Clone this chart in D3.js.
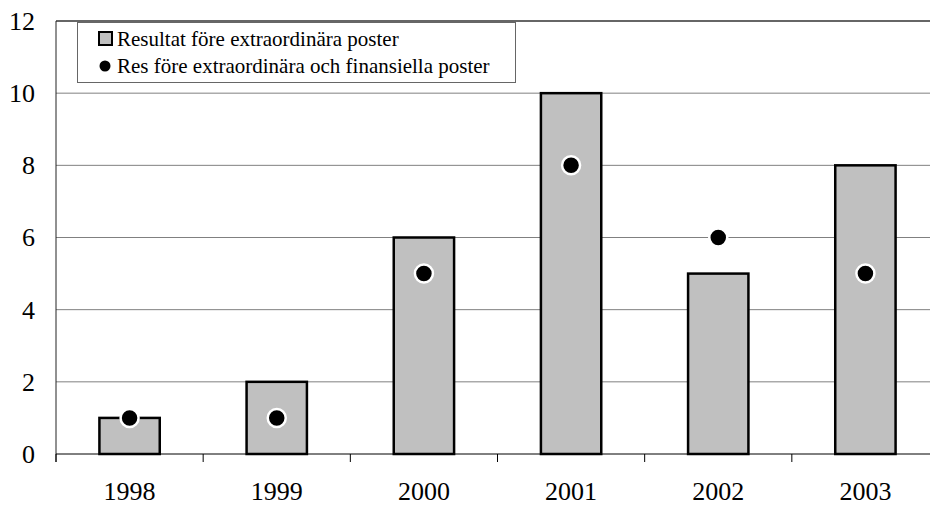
<!DOCTYPE html>
<head>
  <meta charset="utf-8">
  <script src="https://d3js.org/d3.v7.min.js"></script>
  <style>
    body { margin:0; background:white; }
  </style>
</head>
<body>
<script>
  // chart values
  const years = ['1998', '1999', '2000', '2001', '2002', '2003'];
  const resultat = [1, 2, 6, 10, 5, 8];          // bars
  const resFinans = [1, 1, 5, 8, 6, 5];          // dots
  const yTicks = [0, 2, 4, 6, 8, 10, 12];
  const legendLabels = ['Resultat före extraordinära poster',
                        'Res före extraordinära och finansiella poster'];

  const width = 930, height = 506;
  const plotLeft = 56, plotRight = 939, plotTop = 21, plotBottom = 454;
  const serif = "'Liberation Serif', 'Times New Roman', Times, 'DejaVu Serif', serif";

  const svg = d3.select('body').append('svg')
      .attr('width', width)
      .attr('height', height)
      .style('font-family', serif);

  const x = d3.scaleBand()
      .domain(years)
      .range([plotLeft, plotRight])
      .paddingInner(0.59)
      .paddingOuter(0.295);

  const y = d3.scaleLinear()
      .domain([0, 12])
      .range([plotBottom, plotTop]);

  // gridlines
  svg.append('g')
    .selectAll('line')
    .data(yTicks.filter(d => d > 0))
    .enter().append('line')
    .attr('x1', plotLeft).attr('x2', plotRight)
    .attr('y1', d => y(d)).attr('y2', d => y(d))
    .style('stroke', d => d == 12 ? '#333' : '#808080')
    .style('stroke-width', d => d == 12 ? 1.5 : 1);

  // y labels
  svg.append('g')
    .selectAll('text')
    .data(yTicks)
    .enter().append('text')
    .attr('x', 35)
    .attr('y', d => y(d))
    .attr('dy', '0.34em')
    .attr('text-anchor', 'end')
    .style('font-family', serif)
    .style('font-size', '26px')
    .text(d => d);

  // y axis line
  svg.append('line')
    .attr('x1', plotLeft).attr('x2', plotLeft)
    .attr('y1', plotTop).attr('y2', plotBottom + 8)
    .style('stroke', '#222').style('stroke-width', 1);

  // bars
  svg.append('g')
    .selectAll('rect')
    .data(resultat)
    .enter().append('rect')
    .attr('x', (d, i) => x(years[i]))
    .attr('width', x.bandwidth())
    .attr('y', d => y(d))
    .attr('height', d => y(0) - y(d))
    .style('fill', '#c0c0c0')
    .style('stroke', 'black')
    .style('stroke-width', 2.5);

  // x axis
  const xAxis = svg.append('g').attr('transform', `translate(0, ${plotBottom})`);
  xAxis.append('line')
    .attr('x1', plotLeft).attr('x2', plotRight)
    .style('stroke', 'black').style('stroke-width', 1);
  xAxis.selectAll('.tick')
    .data(years)
    .enter().append('line')
    .attr('class', 'tick')
    .attr('x1', d => x(d) - x.step() * 0.295)
    .attr('x2', d => x(d) - x.step() * 0.295)
    .attr('y1', 0).attr('y2', 8)
    .style('stroke', 'black');
  xAxis.selectAll('text')
    .data(years)
    .enter().append('text')
    .attr('x', d => x(d) + x.bandwidth() / 2)
    .attr('y', 46)
    .attr('text-anchor', 'middle')
    .style('font-family', serif)
    .style('font-size', '26px')
    .text(d => d);

  // dots
  svg.append('g')
    .selectAll('circle')
    .data(resFinans)
    .enter().append('circle')
    .attr('cx', (d, i) => x(years[i]) + x.bandwidth() / 2)
    .attr('cy', d => y(d))
    .attr('r', 9)
    .style('fill', 'black')
    .style('stroke', 'white')
    .style('stroke-width', 2.5);

  // legend
  const legend = svg.append('g');
  legend.append('rect')
    .attr('x', 77.5).attr('y', 22.5)
    .attr('width', 438).attr('height', 60)
    .style('fill', 'white')
    .style('stroke', '#666')
    .style('stroke-width', 1);
  legend.append('rect')
    .attr('x', 99).attr('y', 32)
    .attr('width', 13).attr('height', 13)
    .style('fill', '#c0c0c0')
    .style('stroke', 'black')
    .style('stroke-width', 2);
  legend.append('circle')
    .attr('cx', 105).attr('cy', 66)
    .attr('r', 5.5)
    .style('fill', 'black');
  legend.selectAll('text')
    .data(legendLabels)
    .enter().append('text')
    .attr('x', 117)
    .attr('y', (d, i) => 46 + i * 27)
    .style('font-family', serif)
    .style('font-size', '21px')
    .text(d => d);
</script>
</body>
